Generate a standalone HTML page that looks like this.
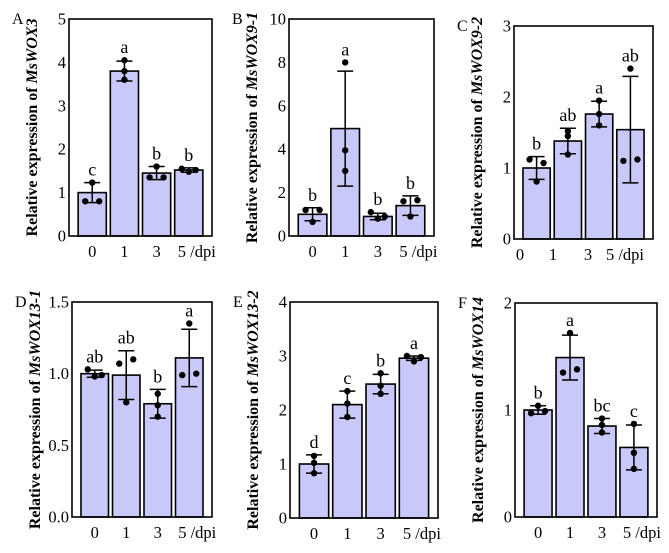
<!DOCTYPE html>
<html><head><meta charset="utf-8"><style>
body{margin:0;background:#fff;}
svg{display:block;font-family:"Liberation Serif",serif;}
</style></head><body>
<svg id="fig" width="669" height="553" viewBox="0 0 669 553" xmlns="http://www.w3.org/2000/svg"></svg>
<script>
// ---- data ----
const categories = ["0","1","3","5 /dpi"];
const genes = ["MsWOX3","MsWOX9-1","MsWOX9-2","MsWOX13-1","MsWOX13-2","MsWOX14"];
const panelLabels = ["A","B","C","D","E","F"];
const yMaxes = [5,10,3,1.5,4,2];
const yTicksA = ["0","1","2","3","4","5"];
const yTicksB = ["0","2","4","6","8","10"];
const yTicksC = ["0","1","2","3"];
const yTicksD = ["0.0","0.5","1.0","1.5"];
const yTicksE = ["0","1","2","3","4"];
const yTicksF = ["0","1","2"];
const meansA = [1.0,3.8,1.45,1.52];
const meansB = [1.0,4.95,0.9,1.4];
const meansC = [1.0,1.38,1.76,1.54];
const meansD = [1.0,0.99,0.79,1.11];
const meansE = [1.0,2.1,2.48,2.96];
const meansF = [1.0,1.49,0.85,0.65];
const errA = [0.23,0.23,0.15,0.05];
const errB = [0.3,2.65,0.15,0.45];
const errC = [0.16,0.18,0.18,0.75];
const errD = [0.025,0.17,0.1,0.2];
const errE = [0.17,0.25,0.18,0.04];
const errF = [0.04,0.21,0.07,0.21];
// replicate points: [slot(-1 left,0 centre,1 right), value]
const ptsA = [[[-1,0.8],[1,0.8],[0,1.23]],[[0,4.05],[0,3.8],[0,3.6]],[[-1,1.35],[1,1.35],[0,1.6]],[[-1,1.55],[0,1.48],[1,1.52]]];
const ptsB = [[[-1,1.2],[1,1.2],[0,0.65]],[[0,8],[0,3.95],[0,3]],[[-1,1.1],[0,0.8],[1,0.9]],[[-1,1.6],[1,1.65],[0,0.9]]];
const ptsC = [[[-1,1.12],[1,1.07],[0,0.81]],[[0,1.52],[0,1.45],[0,1.19]],[[0,1.95],[0,1.76],[0,1.6]],[[0,2.4],[-1,1.1],[1,1.12]]];
const ptsD = [[[-1,1.03],[0,0.98],[1,0.99]],[[-1,1.07],[1,1.1],[0,0.8]],[[0,0.86],[0,0.78],[0,0.7]],[[0,1.35],[-1,0.99],[1,1.0]]];
const ptsE = [[[0,1.15],[0,1.02],[0,0.83]],[[0,2.35],[0,2.12],[0,1.87]],[[0,2.68],[0,2.45],[0,2.3]],[[-1,3.0],[0,2.9],[1,2.98]]];
const ptsF = [[[-1,0.97],[0,1.04],[1,0.99]],[[0,1.72],[-1,1.35],[1,1.38]],[[0,0.92],[0,0.86],[0,0.79]],[[0,0.87],[0,0.6],[0,0.45]]];
const lettersA = ["c","a","b","b"];
const lettersB = ["b","a","b","b"];
const lettersC = ["b","ab","a","ab"];
const lettersD = ["ab","ab","b","a"];
const lettersE = ["d","c","b","a"];
const lettersF = ["b","a","bc","c"];

const boxes = [[69,19,212,236],[289,19,434,236],[514,26,653,239],[72,302,212,517],[290,302,438,518],[515,303,657,517]];
const allTicks=[yTicksA,yTicksB,yTicksC,yTicksD,yTicksE,yTicksF];
const allMeans=[meansA,meansB,meansC,meansD,meansE,meansF];
const allErr=[errA,errB,errC,errD,errE,errF];
const allPts=[ptsA,ptsB,ptsC,ptsD,ptsE,ptsF];
const allLet=[lettersA,lettersB,lettersC,lettersD,lettersE,lettersF];

const NS="http://www.w3.org/2000/svg";
const svg=document.getElementById('fig');
function mk(tag,attrs,parent,text){const e=document.createElementNS(NS,tag);for(const k in attrs)e.setAttribute(k,attrs[k]);if(text!==undefined)e.textContent=text;(parent||svg).appendChild(e);return e;}

for(let p=0;p<6;p++){
  const [x0,y0,x1,y1]=boxes[p];
  const g=mk('g',{});
  
  
  const ymax=yMaxes[p];
  const y=v=>y1-(v/ymax)*(y1-y0);
  const W=x1-x0, pad=W*0.05, band=(W-2*pad)/4, gap=4, bw=band-gap;
  const bx=i=>x0+pad+i*band+gap/2;
  const cx=i=>bx(i)+bw/2;
  const pl=mk('text',{x:x0-57,y:y0+5,'font-size':16},g,panelLabels[p]);
  
  
  const means=allMeans[p],err=allErr[p],pts=allPts[p],lets=allLet[p];
  for(let i=0;i<4;i++){
    const r=mk('rect',{x:bx(i),y:y(means[i]),width:bw,height:y(0)-y(means[i]),fill:'#c9c9f9',stroke:'#000','stroke-width':1.6},g);
    
    
  }
  for(let i=0;i<4;i++){
    const c=cx(i),hi=y(means[i]+err[i]),lo=y(Math.max(0,means[i]-err[i]));
    const eb=mk('path',{d:`M${c},${hi}V${lo}M${c-8},${hi}H${c+8}M${c-8},${lo}H${c+8}`,stroke:'#000','stroke-width':1.5,fill:'none'},g);
    
    
    for(const [s,v] of pts[i]){
      const d=mk('circle',{cx:c+s*7,cy:y(v),r:3.2,fill:'#000'},g);
      
      
    }
    const topv=Math.max(means[i]+err[i],...pts[i].map(q=>q[1]));
    const lt=mk('text',{x:c,y:y(topv)-7,'font-size':18,'text-anchor':'middle'},g,lets[i]);
    
    
  }
  const fr=mk('rect',{x:x0,y:y0,width:W,height:y1-y0,fill:'none',stroke:'#000','stroke-width':1.6},g);
  
  
  const tk=allTicks[p];
  tk.forEach(t=>{
    const v=parseFloat(t);
    const tl=mk('text',{x:x0-3,y:y(v)+5.5,'font-size':16.5,'text-anchor':'end'},g,t);
    
    
  });
  categories.forEach((c,i)=>{
    let xx=cx(i);
    if(p===2){xx=[520,553,588,625][i];}
    if(i===3) xx+= (p===2?0:8);
    const xl=mk('text',{x:xx,y:y1+21,'font-size':16.5,'text-anchor':'middle'},g,c);
    
    
  });
  const tx=x0-32, ty=(y0+y1)/2;
  const yt=mk('text',{x:tx,y:ty,'font-size':16,'font-weight':'bold','text-anchor':'middle',transform:`rotate(-90 ${tx} ${ty})`},g);
  
  
  mk('tspan',{},yt,'Relative expression of ');
  mk('tspan',{'font-style':'italic'},yt,genes[p]);
}
</script>
</body></html>
